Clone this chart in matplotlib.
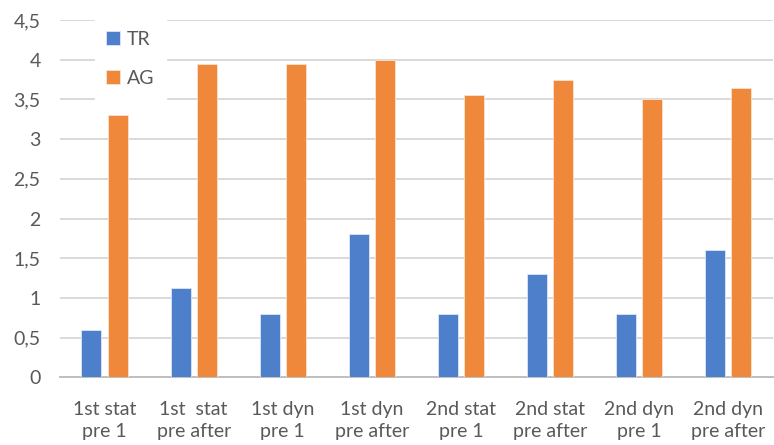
import matplotlib.pyplot as plt
import numpy as np
from matplotlib.ticker import FuncFormatter, MultipleLocator

# Values per test condition
categories = ["1st stat\npre 1", "1st  stat\npre after", "1st dyn\npre 1", "1st dyn\npre after",
              "2nd stat\npre 1", "2nd stat\npre after", "2nd dyn\npre 1", "2nd dyn\npre after"]
tr_values = [0.6, 1.12, 0.8, 1.8, 0.8, 1.3, 0.8, 1.6]
ag_values = [3.3, 3.95, 3.95, 4.0, 3.55, 3.75, 3.5, 3.65]

plt.rcParams['font.family'] = ['Lato', 'DejaVu Sans']

fig = plt.figure(figsize=(7.74, 4.45), dpi=100)
ax = fig.add_axes([0.0775, 0.152, 0.921, 0.803])

x = np.arange(len(categories))
width = 0.225
offset = 0.147
ax.bar(x - offset, tr_values, width, color='#4E7FCB', edgecolor='#DCE6F5', linewidth=0.6, label='TR', zorder=3)
ax.bar(x + offset, ag_values, width, color='#EF883A', edgecolor='#FBE3D0', linewidth=0.6, label='AG', zorder=3)

ax.set_xlim(-0.5, len(categories) - 0.5)
ax.set_ylim(0, 4.5)
ax.yaxis.set_major_locator(MultipleLocator(0.5))
ax.yaxis.set_major_formatter(FuncFormatter(lambda v, p: f"{v:g}".replace('.', ',')))
ax.grid(axis='y', color='#D9D9D9', linewidth=1.4, zorder=0)
ax.set_axisbelow(True)

for side in ['top', 'right', 'left']:
    ax.spines[side].set_visible(False)
ax.spines['bottom'].set_color('#BFBFBF')
ax.spines['bottom'].set_linewidth(1.4)

ax.set_xticks(x)
ax.set_xticklabels(categories, fontsize=14, color='#595959', linespacing=1.35)
ax.tick_params(axis='x', length=0, pad=17)
ax.tick_params(axis='y', length=0, pad=14, labelsize=14, labelcolor='#595959')

leg = ax.legend(loc='upper left', bbox_to_anchor=(0.035, 1.03), frameon=True, fontsize=14,
                handlelength=0.7, handleheight=0.7, labelspacing=1.15, borderpad=0.6,
                handletextpad=0.35, labelcolor='#595959')
leg.get_frame().set_edgecolor('white')
leg.get_frame().set_facecolor('white')
leg.get_frame().set_alpha(1)
leg.get_frame().set_boxstyle('square', pad=0.0)
leg.set_zorder(5)

fig.savefig('out.png', dpi=100)
